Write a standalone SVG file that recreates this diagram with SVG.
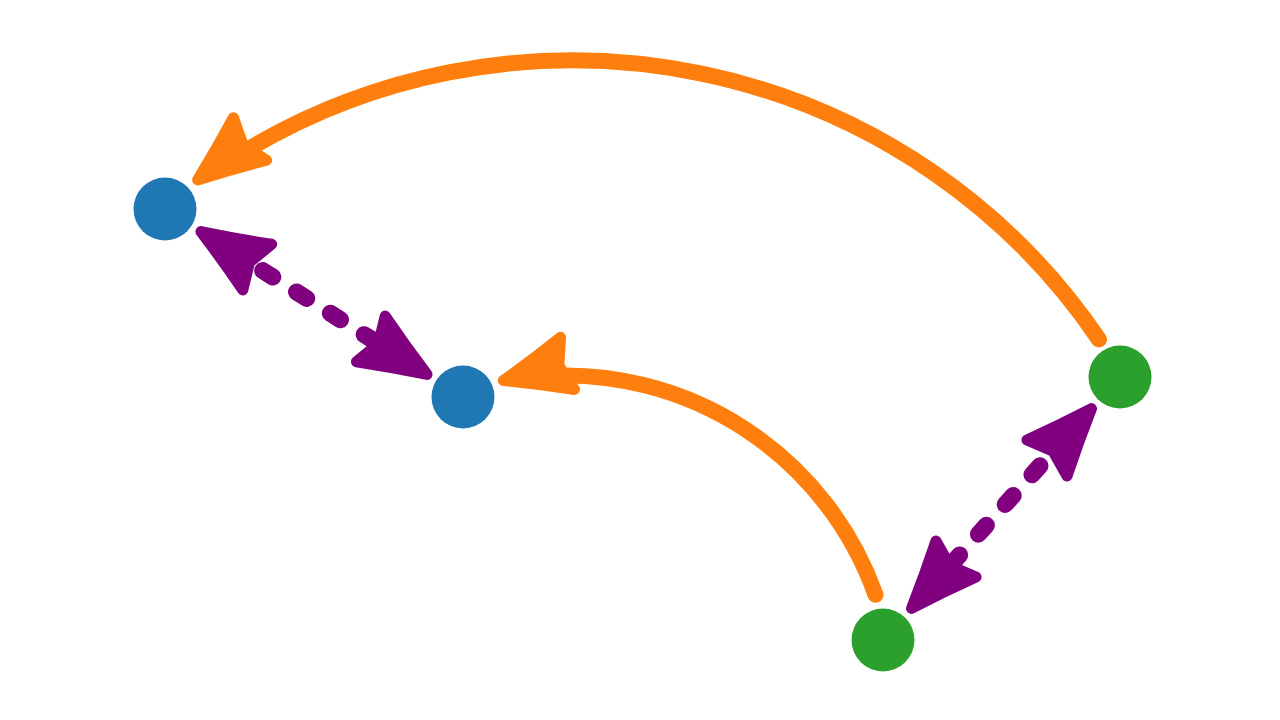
<svg xmlns="http://www.w3.org/2000/svg" xmlns:xlink="http://www.w3.org/1999/xlink" width="1280" height="720" viewBox="0 0 1280 720">
<style>
.o{fill:none;stroke:#ff7f0e;stroke-width:16;stroke-linecap:round}
.p{fill:none;stroke:#800080;stroke-width:17;stroke-linecap:round;stroke-dasharray:12 28}
.ho{fill:#ff7f0e;stroke:#ff7f0e;stroke-width:11;stroke-linejoin:round}
.hp{fill:#800080;stroke:#800080;stroke-width:11;stroke-linejoin:round}
.b{fill:#1f77b4}
.g{fill:#2ca02c}
</style>
<defs>
<path id="head" d="M-5.5,0 Q-40,-13 -72,-27 L-63,0 L-72,27 Q-40,13 -5.5,0 Z"/>
</defs>
<rect width="1280" height="720" fill="#ffffff"/>
<g id="connectors">
<path class="o" d="M1099,339.5 A636,636 0 0 0 231.5,159.5"/>
<use class="ho" href="#head" xlink:href="#head" transform="translate(193.3,183.3) rotate(142)"/>
<path class="o" d="M875.5,594.8 A329.5,329.5 0 0 0 542.6,376.3"/>
<use class="ho" href="#head" xlink:href="#head" transform="translate(498,382) rotate(165)"/>
<path class="p" d="M228.85,249.28 L397.57,355.71"/>
<use class="hp" href="#head" xlink:href="#head" transform="translate(196.3,228.7) rotate(212.24)"/>
<use class="hp" href="#head" xlink:href="#head" transform="translate(431.7,377.3) rotate(32.24)"/>
<path class="p" d="M951.62,563.85 L1058.74,444.99"/>
<use class="hp" href="#head" xlink:href="#head" transform="translate(907.8,612.5) rotate(132.03)"/>
<use class="hp" href="#head" xlink:href="#head" transform="translate(1095.2,404.5) rotate(-47.97)"/>
</g>
<g id="node-blue-1"><circle class="b" cx="165" cy="209" r="31.5"/></g>
<g id="node-blue-2"><circle class="b" cx="463" cy="397" r="31.5"/></g>
<g id="node-green-1"><circle class="g" cx="1120" cy="377" r="31.5"/></g>
<g id="node-green-2"><circle class="g" cx="883" cy="640" r="31.5"/></g>
</svg>
